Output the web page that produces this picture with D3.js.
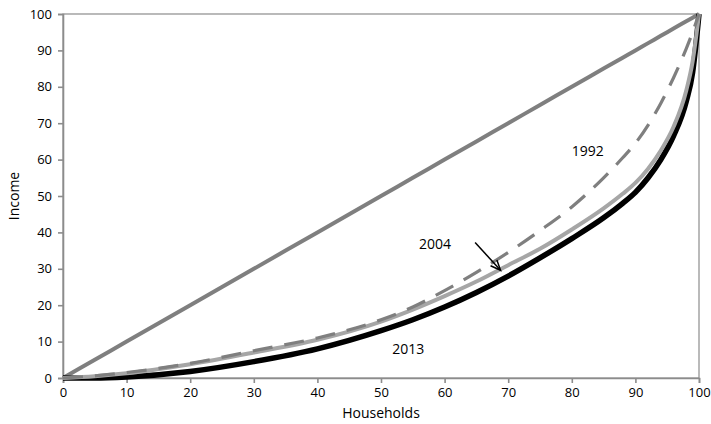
<!DOCTYPE html>
<html><head><meta charset="utf-8">
<script src="https://cdn.jsdelivr.net/npm/d3@7"></script>
<style>body{margin:0;background:#fff}svg{display:block}text{font-family:"Open Sans","Noto Sans",sans-serif;fill:#000}</style>
</head><body>
<script>
const households = [0, 5, 10, 20, 30, 40, 50, 55, 60, 65, 70, 75, 80, 85, 88, 90, 92, 94, 96, 98, 99, 100];
const equality  = [0, 5, 10, 20, 30, 40, 50, 55, 60, 65, 70, 75, 80, 85, 88, 90, 92, 94, 96, 98, 99, 100];
const y1992 = [0, 0.6, 1.5, 4, 7.5, 11, 16, 19.5, 24, 29, 34.5, 40.5, 47, 55, 60.5, 64.5, 69.5, 75.5, 82.5, 90.5, 95, 100];
const y2004 = [0, 0.5, 1.3, 3.8, 7, 10.5, 15.5, 18.8, 22.5, 26.5, 31, 35.5, 40.8, 46.6, 50.6, 53.6, 57.5, 62.5, 69, 79, 87, 100];
const y2013 = [0, 0, 0.3, 1.8, 4.5, 8, 13, 16, 19.5, 23.5, 28, 33, 38.3, 44, 48, 51, 55, 60, 66.5, 76, 84, 100];
const xTicks = [0, 10, 20, 30, 40, 50, 60, 70, 80, 90, 100];
const yTicks = [0, 10, 20, 30, 40, 50, 60, 70, 80, 90, 100];
const labels = [{t:"1992", x:82.5, y:61}, {t:"2004", x:58.5, y:35.5}, {t:"2013", x:54.3, y:6.5}];

const W = 711, H = 424;
const m = {l:63, r:12, t:14, b:46};
const svg = d3.select("body").append("svg").attr("width", W).attr("height", H);
const x = d3.scaleLinear().domain([0,100]).range([m.l, W-m.r]);
const y = d3.scaleLinear().domain([0,100]).range([H-m.b, m.t]);

// frame
svg.append("rect").attr("x", x(0)).attr("y", y(100)).attr("width", x(100)-x(0)).attr("height", y(0)-y(100))
  .attr("fill","none").attr("stroke","#8c8c8c").attr("stroke-width",1.2);

const xa = svg.append("g").attr("transform",`translate(0,${y(0)})`)
  .call(d3.axisBottom(x).tickValues(xTicks).tickSize(5).tickPadding(5));
const ya = svg.append("g").attr("transform",`translate(${x(0)},0)`)
  .call(d3.axisLeft(y).tickValues(yTicks).tickSize(5).tickPadding(6));
[xa, ya].forEach(a => {
  a.selectAll("path,line").attr("stroke","#8c8c8c").attr("stroke-width",1.6);
  a.selectAll("text").attr("font-size",13).attr("fill","#000").style("font-family",'"Open Sans","Noto Sans",sans-serif');
});

const line = vals => d3.line().x((d,i)=>x(households[i])).y(d=>y(d)).curve(d3.curveMonotoneX)(vals);
svg.append("path").attr("d", line(equality)).attr("fill","none").attr("stroke","#7f7f7f").attr("stroke-width",4);
svg.append("path").attr("d", line(y2013)).attr("fill","none").attr("stroke","#000").attr("stroke-width",5.5);
svg.append("path").attr("d", line(y2004)).attr("fill","none").attr("stroke","#a6a6a6").attr("stroke-width",4);
svg.append("path").attr("d", line(y1992)).attr("fill","none").attr("stroke","#7f7f7f").attr("stroke-width",3.2).attr("stroke-dasharray","20,12");

labels.forEach(l => svg.append("text").attr("x", x(l.x)).attr("y", y(l.y)).attr("text-anchor","middle").attr("font-size",14).text(l.t));

// arrow
const ax1 = x(64.8), ay1 = y(37.2), ax2 = x(68.8), ay2 = y(29.6);
svg.append("line").attr("x1",ax1).attr("y1",ay1).attr("x2",ax2).attr("y2",ay2).attr("stroke","#000").attr("stroke-width",1.5);
const ang = Math.atan2(ay2-ay1, ax2-ax1), hl = 11;
svg.append("path").attr("d", `M${ax2-hl*Math.cos(ang-0.4)},${ay2-hl*Math.sin(ang-0.4)}L${ax2},${ay2}L${ax2-hl*Math.cos(ang+0.4)},${ay2-hl*Math.sin(ang+0.4)}`)
  .attr("fill","none").attr("stroke","#000").attr("stroke-width",1.5);

svg.append("text").attr("x", (x(0)+x(100))/2).attr("y", 418).attr("text-anchor","middle").attr("font-size",14).text("Households");
svg.append("text").attr("transform",`translate(19,${(y(0)+y(100))/2}) rotate(-90)`).attr("text-anchor","middle").attr("font-size",14).text("Income");
</script>
</body></html>
